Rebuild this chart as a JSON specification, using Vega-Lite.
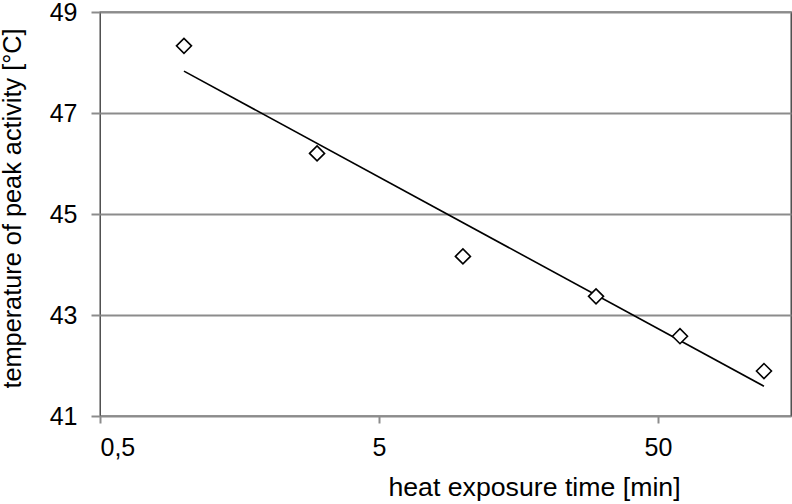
{
  "$schema": "https://vega.github.io/schema/vega-lite/v6.json",
  "width": 691,
  "height": 404,
  "autosize": {"type": "none"},
  "padding": {"left": 100, "top": 12, "right": 1, "bottom": 88},
  "background": "white",
  "config": {
    "view": {"stroke": "#333333", "strokeWidth": 1.3},
    "font": "Liberation Sans"
  },
  "datasets": {
    "points": [
      {"time": 1, "temp": 48.33},
      {"time": 3, "temp": 46.2},
      {"time": 10, "temp": 44.16},
      {"time": 30, "temp": 43.37},
      {"time": 60, "temp": 42.58},
      {"time": 120, "temp": 41.89}
    ],
    "fit": [
      {"time": 1, "temp": 47.83},
      {"time": 120, "temp": 41.59}
    ]
  },
  "encoding": {
    "x": {
      "field": "time",
      "type": "quantitative",
      "scale": {"type": "log", "domain": [0.5, 150], "nice": false},
      "axis": {
        "values": [0.5, 5, 50],
        "labelExpr": "replace(toString(datum.value), '.', ',')",
        "grid": false,
        "domain": false,
        "ticks": true,
        "tickColor": "#8c8c8c",
        "tickSize": 7,
        "tickWidth": 2,
        "labelFontSize": 25,
        "labelPadding": 12,
        "labelColor": "black",
        "title": "heat exposure time [min]",
        "titleFontSize": 26.7,
        "titleFontWeight": "normal",
        "titleColor": "black",
        "titleX": 434,
        "titleY": 79,
        "titleAlign": "center",
        "titleBaseline": "alphabetic"
      }
    },
    "y": {
      "field": "temp",
      "type": "quantitative",
      "scale": {"domain": [41, 49], "nice": false, "zero": false},
      "axis": {
        "values": [41, 43, 45, 47, 49],
        "grid": true,
        "gridColor": "#8c8c8c",
        "gridWidth": 2,
        "domain": false,
        "tickColor": "#8c8c8c",
        "tickSize": 9,
        "tickWidth": 2,
        "labelFontSize": 25,
        "labelPadding": 14,
        "labelColor": "black",
        "title": "temperature of peak activity [°C]",
        "titleFontSize": 25.3,
        "titleFontWeight": "normal",
        "titleColor": "black",
        "titleAngle": -90,
        "titleX": -80,
        "titleY": 196,
        "titleAlign": "center",
        "titleBaseline": "alphabetic"
      }
    }
  },
  "layer": [
    {
      "data": {"name": "fit"},
      "mark": {"type": "line", "color": "black", "strokeWidth": 1.6}
    },
    {
      "data": {"name": "points"},
      "mark": {
        "type": "point",
        "shape": "diamond",
        "size": 225,
        "filled": true,
        "fill": "white",
        "stroke": "black",
        "strokeWidth": 1.6,
        "opacity": 1
      }
    }
  ]
}
